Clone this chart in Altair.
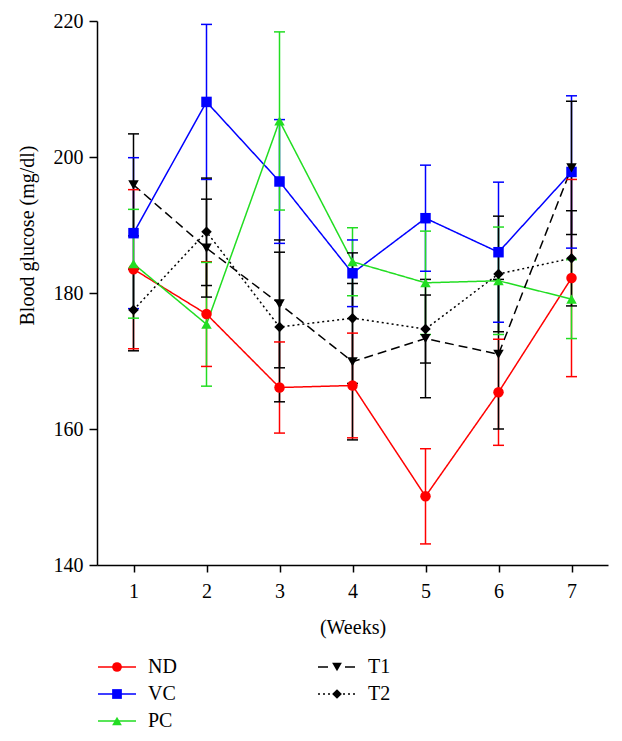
import altair as alt
import pandas as pd

weeks = [1, 2, 3, 4, 5, 6, 7]
groups = ["ND", "VC", "PC", "T1", "T2"]

nd_mean = [183.5, 176.9, 166.1, 166.4, 150.1, 165.4, 182.2]
nd_err = [11.7, 7.7, 6.7, 7.7, 7.0, 7.8, 14.5]
vc_mean = [188.8, 208.1, 196.4, 182.9, 191.0, 186.0, 197.8]
vc_err = [11.1, 11.4, 9.1, 4.9, 7.8, 10.3, 11.2]
pc_mean = [184.3, 175.4, 205.3, 184.6, 181.5, 181.8, 179.1]
pc_err = [8.0, 9.1, 13.1, 5.0, 7.6, 7.9, 5.8]
t1_mean = [195.9, 186.6, 178.4, 169.9, 173.3, 171.0, 198.4]
t1_err = [7.5, 7.2, 9.4, 11.5, 8.7, 11.0, 9.8]
t2_mean = [177.5, 189.0, 175.0, 176.3, 174.7, 182.8, 185.1]
t2_err = [6.0, 7.9, 11.0, 9.6, 5.0, 8.5, 7.0]

# legend layout: column and row of each entry
leg_col = [0, 0, 0, 1, 1]
leg_row = [0, 1, 2, 0, 1]

means = {"ND": nd_mean, "VC": vc_mean, "PC": pc_mean, "T1": t1_mean, "T2": t2_mean}
errs = {"ND": nd_err, "VC": vc_err, "PC": pc_err, "T1": t1_err, "T2": t2_err}

rows = []
for g in groups:
    for w, m, e in zip(weeks, means[g], errs[g]):
        rows.append({"week": w, "group": g, "mean": m, "lo": m - e, "hi": m + e})
df = pd.DataFrame(rows)
leg_df = pd.DataFrame({"group": groups, "col": leg_col, "row": leg_row})

dom = groups
col_range = ["#FF0000", "#0000FF", "#22DD22", "#000000", "#000000"]
shape_range = ["circle", "square", "triangle-up", "triangle-down", "diamond"]
dash_range = [[1, 0], [1, 0], [1, 0], [9, 5], [2, 3]]
leg_dash_range = [[1, 0], [1, 0], [1, 0], [10, 17], [2, 3]]

FONT = "Liberation Serif"
FS = 20

color_scale = alt.Scale(domain=dom, range=col_range)
shape_scale = alt.Scale(domain=dom, range=shape_range)

xenc = alt.X("week:Q", scale=alt.Scale(domain=[0.5, 7.5], nice=False),
             axis=alt.Axis(values=weeks, format="d", title="(Weeks)", grid=False,
                           tickSize=7, labelPadding=9, titleY=62, titleBaseline="middle",
                           titleFontWeight="normal"))
yenc = alt.Y("mean:Q", scale=alt.Scale(domain=[140, 220], nice=False, zero=False),
             axis=alt.Axis(values=[140, 160, 180, 200, 220], title="Blood glucose (mg/dl)",
                           grid=False, tickSize=8, labelPadding=6, titleFontWeight="normal",
                           titleX=-70, titleY=214, titleAngle=-90, titleAlign="center",
                           titleBaseline="middle"))

base = alt.Chart(df)
col_enc = alt.Color("group:N", scale=color_scale, legend=None)

lines = base.mark_line(strokeWidth=1.5).encode(
    x=xenc, y=yenc, color=col_enc,
    strokeDash=alt.StrokeDash("group:N", scale=alt.Scale(domain=dom, range=dash_range), legend=None),
    detail="group:N",
)
rules = base.mark_rule(strokeWidth=1.5, opacity=1).encode(
    x="week:Q", y="lo:Q", y2="hi:Q", color=col_enc)
tick_lo = base.mark_tick(orient="horizontal", size=11, thickness=1.5, opacity=1).encode(
    x="week:Q", y="lo:Q", color=col_enc)
tick_hi = base.mark_tick(orient="horizontal", size=11, thickness=1.5, opacity=1).encode(
    x="week:Q", y="hi:Q", color=col_enc)
points = base.mark_point(filled=True, opacity=1, size=110).encode(
    x="week:Q", y="mean:Q", color=col_enc,
    shape=alt.Shape("group:N", scale=shape_scale, legend=None),
)
main = alt.layer(lines, rules, tick_lo, tick_hi, points)

# hand-built legend below the plot
lbase = alt.Chart(leg_df)
lx = alt.X("col:Q", scale=alt.Scale(domain=[0, 1], range=[20, 240]), axis=None)
ly = alt.Y("row:Q", scale=alt.Scale(domain=[0, 2], range=[646, 700]), axis=None)
leg_lines = lbase.mark_rule(strokeWidth=1.5, xOffset=-19, x2Offset=19).encode(
    x=lx, x2="col:Q", y=ly, color=col_enc,
    strokeDash=alt.StrokeDash("group:N", scale=alt.Scale(domain=dom, range=leg_dash_range), legend=None),
)
leg_pts = lbase.mark_point(filled=True, opacity=1, size=95).encode(
    x="col:Q", y="row:Q", color=col_enc,
    shape=alt.Shape("group:N", scale=shape_scale, legend=None),
)
leg_txt = lbase.mark_text(align="left", baseline="middle", dx=31, font=FONT, fontSize=FS,
                          color="#000000").encode(x="col:Q", y="row:Q", text="group:N")
legend = alt.layer(leg_lines, leg_pts, leg_txt)

chart = alt.layer(main, legend).resolve_scale(
    x="independent", y="independent", strokeDash="independent"
).properties(
    width=511, height=544,
    padding={"left": 89, "top": 13, "right": 6, "bottom": 168},
    autosize=alt.AutoSizeParams(type="none"),
).configure_view(stroke=None).configure_axis(
    labelFont=FONT, titleFont=FONT, labelFontSize=FS, titleFontSize=FS,
    labelColor="#000000", titleColor="#000000", domainColor="#000000",
    tickColor="#000000", domainWidth=1.5, tickWidth=1.5,
)

chart.save("out.html", embed_options={"renderer": "svg", "actions": False})
